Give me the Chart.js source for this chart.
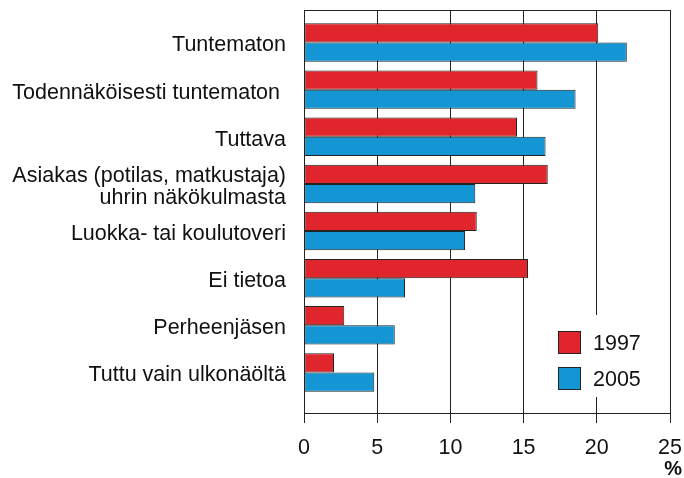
<!DOCTYPE html>
<html>
<head>
<meta charset="utf-8">
<script src="https://cdn.jsdelivr.net/npm/chart.js@4/dist/chart.umd.min.js"></script>
<style>
  body { margin: 0; background: #fff; }
  #wrap { width: 684px; height: 478px; }
</style>
</head>
<body>
<div id="wrap"><canvas id="myChart"></canvas></div>
<script>
const categories = [
    'Tuntematon',
    'Todennäköisesti tuntematon ',
    'Tuttava',
    ['Asiakas (potilas, matkustaja)', 'uhrin näkökulmasta'],
    'Luokka- tai koulutoveri',
    'Ei tietoa',
    'Perheenjäsen',
    'Tuttu vain ulkonäöltä'
];
const seriesNames = ['1997', '2005'];
const values1997 = [20.1, 15.95, 14.55, 16.65, 11.8, 15.3, 2.75, 2.05];
const values2005 = [22.05, 18.55, 16.5, 11.7, 11.0, 6.9, 6.2, 4.8];
const xTicks = [0, 5, 10, 15, 20, 25];

const font = "'Liberation Sans', Arial, sans-serif";
const red = '#e0262c';
const blue = '#1596d4';
const line = '#222';

// frame top line, legend box and the % unit
const extras = {
    id: 'extras',
    afterDraw(chart) {
        const c = chart.ctx;
        const a = chart.chartArea;
        c.save();
        c.strokeStyle = line;
        c.lineWidth = 1;
        c.beginPath();
        c.moveTo(a.left, a.top + 0.5);
        c.lineTo(a.right, a.top + 0.5);
        c.stroke();

        c.fillStyle = '#fff';
        c.fillRect(a.right - 122, a.bottom - 98, 112, 82);
        chart.data.datasets.forEach((ds, i) => {
            const top = a.bottom - 82 + i * 36;
            const left = a.right - 112;
            c.fillStyle = ds.backgroundColor;
            c.fillRect(left, top, 23, 23);
            c.strokeStyle = line;
            c.strokeRect(left + 0.5, top + 0.5, 22, 22);
            c.fillStyle = '#111';
            c.font = '21.5px ' + font;
            c.textAlign = 'left';
            c.textBaseline = 'middle';
            c.fillText(ds.label, a.right - 77, top + 13);
        });

        c.font = 'bold 20px ' + font;
        c.textAlign = 'right';
        c.textBaseline = 'middle';
        c.fillStyle = '#111';
        c.fillText('%', a.right + 12, 469);
        c.restore();
    }
};

const ctx = document.getElementById('myChart');

let chart = new Chart(ctx, {
    type: 'bar',
    data: {
        datasets: [{
            label: seriesNames[0],
            data: values1997.map((v, i) => ({ x: v, y: i })),
            backgroundColor: red,
        },
        {
            label: seriesNames[1],
            data: values2005.map((v, i) => ({ x: v, y: i })),
            backgroundColor: blue,
        }]
    },
    options: {
        indexAxis: 'y',
        responsive: true,
        maintainAspectRatio: false,
        animation: false,
        layout: { padding: { top: 10, right: 14, left: 0, bottom: 0 } },
        datasets: {
            bar: {
                borderColor: line,
                borderWidth: 1,
                borderSkipped: false,
                categoryPercentage: 0.815,
                barPercentage: 1
            }
        },
        plugins: {
            legend: { display: false },
            tooltip: { enabled: false }
        },
        scales: {
            x: {
                type: 'linear',
                min: 0,
                max: 25,
                afterBuildTicks: (s) => { s.ticks = xTicks.map(v => ({ value: v })); },
                afterFit: (s) => { s.height = 65; s.paddingLeft = 0; s.paddingRight = 0; },
                grid: { color: line, lineWidth: 1, tickLength: 10, tickColor: line },
                border: { display: true, color: line, width: 1 },
                ticks: { color: '#111', padding: 12, font: { family: font, size: 21.5 } }
            },
            y: {
                type: 'linear',
                reverse: true,
                offset: false,
                min: -0.69,
                max: 7.86,
                bounds: 'data',
                afterBuildTicks: (s) => { s.ticks = categories.map((c, i) => ({ value: i })); },
                afterFit: (s) => { s.width = 304; s.paddingTop = 0; s.paddingBottom = 0; },
                grid: { display: false, drawTicks: false },
                border: { display: true, color: line, width: 1 },
                ticks: {
                    autoSkip: false,
                    padding: 18,
                    labelOffset: 3,
                    color: '#111',
                    font: { family: font, size: 21.5, lineHeight: 1.0 },
                    callback: (v) => categories[v]
                }
            }
        }
    },
    plugins: [extras]
});
</script>
</body>
</html>
